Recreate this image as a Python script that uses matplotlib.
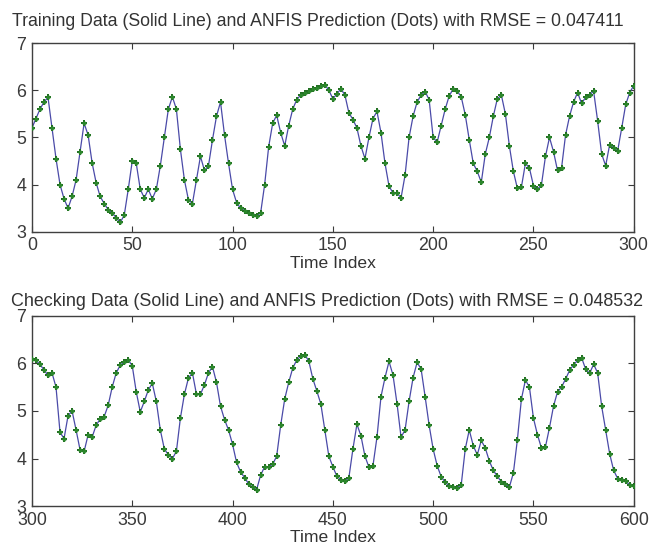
import numpy as np
import matplotlib
matplotlib.use("Agg")
from matplotlib import pyplot as plt

# values, every 2nd time index
train_idx = np.arange(0, 301, 2)
train_val = [
    5.20, 5.40, 5.60, 5.75, 5.85, 5.20, 4.55, 4.00, 3.70, 3.50,
    3.75, 4.10, 4.70, 5.30, 5.05, 4.46, 4.04, 3.75, 3.60, 3.47,
    3.40, 3.30, 3.20, 3.35, 3.90, 4.50, 4.45, 3.90, 3.72, 3.90,
    3.70, 3.90, 4.40, 5.00, 5.60, 5.86, 5.60, 4.75, 4.10, 3.68,
    3.60, 4.10, 4.60, 4.30, 4.40, 4.95, 5.45, 5.75, 5.05, 4.45,
    3.90, 3.62, 3.50, 3.45, 3.40, 3.36, 3.34, 3.40, 4.00, 4.80,
    5.30, 5.47, 5.10, 4.82, 5.25, 5.60, 5.80, 5.90, 5.95, 5.99,
    6.02, 6.05, 6.08, 6.12, 6.00, 5.82, 5.92, 6.03, 5.90, 5.52,
    5.38, 5.20, 4.82, 4.55, 5.00, 5.40, 5.55, 5.10, 4.45, 3.97,
    3.82, 3.82, 3.72, 4.20, 5.00, 5.45, 5.75, 5.90, 5.97, 5.80,
    5.00, 4.90, 5.25, 5.60, 5.88, 6.03, 5.98, 5.86, 5.48, 4.95,
    4.45, 4.28, 4.05, 4.65, 5.00, 5.45, 5.82, 5.90, 5.50, 4.82,
    4.28, 3.92, 3.95, 4.45, 4.35, 3.98, 3.90, 4.00, 4.60, 5.00,
    4.70, 4.30, 4.35, 5.05, 5.45, 5.75, 5.95, 5.72, 5.85, 5.90,
    5.98, 5.35, 4.65, 4.40, 4.85, 4.78, 4.72, 5.20, 5.70, 5.95,
    6.10,
]

check_idx = np.arange(300, 601, 2)
check_val = [
    6.10, 6.06, 5.98, 5.86, 5.75, 5.80, 5.50, 4.55, 4.42, 4.90,
    5.00, 4.60, 4.18, 4.15, 4.50, 4.45, 4.70, 4.83, 4.88, 5.12,
    5.50, 5.80, 5.96, 6.03, 6.07, 5.95, 5.40, 4.98, 5.20, 5.44,
    5.58, 5.20, 4.60, 4.20, 4.08, 4.00, 4.15, 4.85, 5.35, 5.69,
    5.80, 5.35, 5.35, 5.55, 5.80, 5.93, 5.60, 5.10, 4.82, 4.60,
    4.30, 3.92, 3.72, 3.60, 3.47, 3.40, 3.35, 3.65, 3.83, 3.83,
    3.88, 4.05, 4.70, 5.25, 5.60, 5.90, 6.07, 6.15, 6.18, 6.05,
    5.68, 5.42, 5.15, 4.60, 4.05, 3.83, 3.63, 3.56, 3.52, 3.60,
    4.20, 4.72, 4.48, 4.05, 3.82, 3.85, 4.45, 5.30, 5.70, 6.04,
    5.75, 5.15, 4.45, 4.60, 5.20, 5.70, 6.02, 5.88, 5.30, 4.70,
    4.20, 3.85, 3.62, 3.50, 3.43, 3.41, 3.39, 3.45, 4.20, 4.60,
    4.27, 4.08, 4.38, 4.22, 3.95, 3.75, 3.63, 3.51, 3.47, 3.40,
    3.70, 4.40, 5.25, 5.65, 5.50, 4.85, 4.50, 4.22, 4.25, 4.65,
    5.10, 5.40, 5.50, 5.67, 5.85, 5.97, 6.06, 6.12, 5.88, 5.79,
    5.98, 5.80, 5.10, 4.60, 4.10, 3.75, 3.58, 3.55, 3.52, 3.45,
    3.42,
]

titles = [
    "Training Data (Solid Line) and ANFIS Prediction (Dots) with RMSE = 0.047411",
    "Checking Data (Solid Line) and ANFIS Prediction (Dots) with RMSE = 0.048532",
]
xlims = [(0, 300), (300, 600)]
title_pads = [12, 7]
title_sizes = [12.7, 12.9]
title_x = [0.475, 0.49]

plt.rcParams["font.family"] = ["Liberation Sans", "DejaVu Sans"]
fig = plt.figure(figsize=(6.52, 5.52), dpi=100)
ax_top = fig.add_axes([0.049, 0.580, 0.923, 0.342])
ax_bot = fig.add_axes([0.049, 0.083, 0.923, 0.345])

txt_col = "#3a3a3a"
for ax, x, y, ttl, xl, tp, ts, tx in zip([ax_top, ax_bot], [train_idx, check_idx],
                                         [train_val, check_val], titles, xlims,
                                         title_pads, title_sizes, title_x):
    ax.plot(x, y, "-", color="#4a4aa8", lw=0.9, zorder=2)
    ax.plot(x, y, "+", color="#1d6b1d", ms=4.5, mew=1.4, zorder=3)
    ax.plot(x, y, ".", color="#2e8b2e", ms=4, alpha=0.8, zorder=3)
    ax.set_xlim(*xl)
    ax.set_ylim(3, 7)
    ax.set_xticks(np.arange(xl[0], xl[1] + 1, 50))
    ax.set_yticks([3, 4, 5, 6, 7])
    ax.tick_params(direction="in", top=True, right=True, length=4,
                   labelsize=12.8, colors=txt_col, pad=4)
    for s in ax.spines.values():
        s.set_color("#404040")
        s.set_linewidth(1.0)
    ax.set_title(ttl, fontsize=ts, color="#333333", pad=tp, x=tx)
    ax.set_xlabel("Time Index", fontsize=12.6, color="#333333", labelpad=1)

fig.savefig("out.png", dpi=100)
